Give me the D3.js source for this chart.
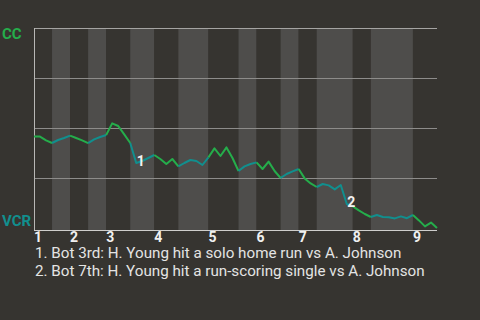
<!DOCTYPE html>
<html>
<head>
<meta charset="utf-8">
<script src="https://cdn.jsdelivr.net/npm/d3@7"></script>
<style>
  html, body { margin: 0; padding: 0; background: #363430; }
  svg { display: block; font-family: Roboto, "Noto Sans", sans-serif; }
</style>
</head>
<body>
<svg id="chart"></svg>
<script>
// plate appearances per half inning (top 1, bot 1, top 2, ...)
var halfInningPAs = [3, 3, 3, 3, 4, 4, 4, 5, 5, 3, 4, 3, 3, 6, 3, 7, 4];
var inningLabels = ["1", "2", "3", "4", "5", "6", "7", "8", "9"];

// CC win probability (%) after each plate appearance
var winProb = [
  45.7, 45.7, 43.8, 42.5, 44.0, 45.0, 46.2, 45.0, 43.8, 42.4,
  44.3, 45.5, 46.5, 52.3, 51.0, 46.8, 42.5, 32.5, 33.5, 35.0,
  36.5, 34.5, 32.0, 34.5, 30.8, 32.5, 34.0, 33.5, 31.5, 35.3,
  39.8, 36.0, 40.3, 35.0, 28.5, 30.8, 32.0, 32.8, 29.5, 33.2,
  28.5, 25.0, 27.0, 28.3, 29.5, 24.8, 22.3, 20.5, 22.0, 21.3,
  19.3, 21.5, 12.0, 10.8, 8.8, 7.0, 5.5, 6.5, 5.5, 5.4,
  4.8, 5.8, 4.9, 6.5, 3.8, 0.8, 2.7, 0.0
];

var teams = ["CC", "VCR"];
var gridValues = [25, 50, 75, 100];

var eventPA = [17, 52];
var eventLabels = ["1", "2"];
var eventTexts = [
  "1. Bot 3rd: H. Young hit a solo home run vs A. Johnson",
  "2. Bot 7th: H. Young hit a run-scoring single vs A. Johnson"
];

var green = "#25ad4b", teal = "#118f8e";

var width = 480, height = 320;
var svg = d3.select("#chart").attr("width", width).attr("height", height);

var x = d3.scaleLinear().domain([0, winProb.length - 1]).range([34, 437]);
var y = d3.scaleLinear().domain([0, 100]).range([228, 28]);

// start index of each half inning
var starts = [0];
halfInningPAs.forEach(function(n, i) { starts.push(starts[i] + n); });

// alternating half-inning bands
svg.append("g").selectAll("rect")
   .data(halfInningPAs)
   .enter().append("rect")
   .attr("x", function(d, i) { return x(starts[i]); })
   .attr("y", y(100))
   .attr("width", function(d, i) { return x(starts[i + 1]) - x(starts[i]); })
   .attr("height", y(0) + 2 - y(100))
   .attr("fill", function(d, i) { return i % 2 ? "#4e4d4b" : "#363430"; });

// gridlines
svg.append("g").selectAll("line")
   .data(gridValues)
   .enter().append("line")
   .attr("x1", x.range()[0]).attr("x2", x.range()[1])
   .attr("y1", function(d) { return Math.round(y(d)) + 0.5; })
   .attr("y2", function(d) { return Math.round(y(d)) + 0.5; })
   .attr("stroke", function(d) { return d == 100 ? "#a5a4a2" : "#8d8c8a"; })
   .attr("stroke-width", 1);

// axes lines
svg.append("line")
   .attr("x1", 34.5).attr("x2", 34.5)
   .attr("y1", y(100)).attr("y2", y(0) + 2.5)
   .attr("stroke", "#b8b7b5");
svg.append("line")
   .attr("x1", 34).attr("x2", x.range()[1])
   .attr("y1", y(0) + 2.5).attr("y2", y(0) + 2.5)
   .attr("stroke", "#cfcecc");

// win probability line, coloured per half inning
var line = d3.line()
             .x(function(k) { return x(k); })
             .y(function(k) { return y(winProb[k]); });

svg.append("g").selectAll("path")
   .data(halfInningPAs)
   .enter().append("path")
   .attr("d", function(d, i) { return line(d3.range(starts[i], starts[i + 1] + 1)); })
   .attr("fill", "none")
   .attr("stroke", function(d, i) { return i % 2 ? teal : green; })
   .attr("stroke-width", 2)
   .attr("stroke-linejoin", "round");

// event markers
svg.append("g").selectAll("text")
   .data(eventPA)
   .enter().append("text")
   .attr("x", function(k) { return x(k) + 0.5; })
   .attr("y", function(k) { return y(winProb[k]) + 2.5; })
   .attr("fill", "#f2f2f2")
   .attr("font-size", 14)
   .attr("font-weight", "bold")
   .text(function(k, i) { return eventLabels[i]; });

// inning labels
svg.append("g").selectAll("text")
   .data(inningLabels)
   .enter().append("text")
   .attr("x", function(d, i) { return x(starts[i * 2]); })
   .attr("y", 242)
   .attr("fill", "#f0f0f0")
   .attr("font-size", 14)
   .attr("font-weight", "bold")
   .text(function(d) { return d; });

// team labels
svg.append("text")
   .attr("x", 2).attr("y", 39)
   .attr("fill", green).attr("font-size", 15).attr("font-weight", "bold")
   .text(teams[0]);
svg.append("text")
   .attr("x", 2).attr("y", 225.5)
   .attr("fill", teal).attr("font-size", 15).attr("font-weight", "bold")
   .text(teams[1]);

// event descriptions
svg.append("g").selectAll("text")
   .data(eventTexts)
   .enter().append("text")
   .attr("x", 35)
   .attr("y", function(d, i) { return 257.5 + i * 18; })
   .attr("fill", "#e4e4e4")
   .attr("font-size", 15.2)
   .text(function(d) { return d; });
</script>
</body>
</html>
